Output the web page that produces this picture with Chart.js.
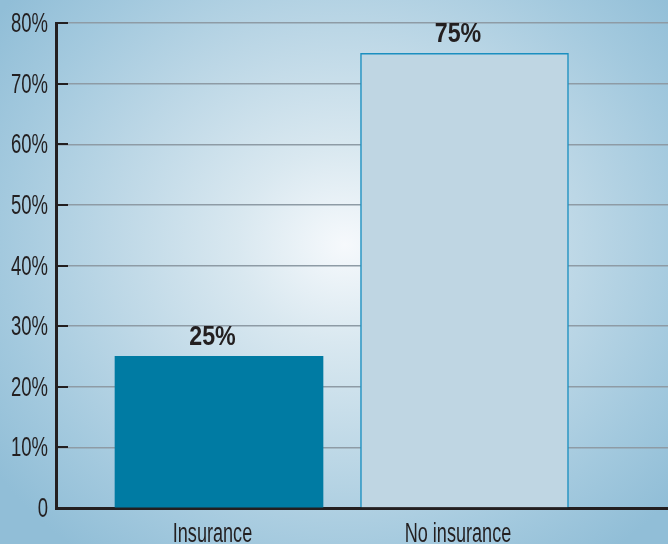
<!DOCTYPE html>
<html>
<head>
<meta charset="utf-8">
<script src="https://cdn.jsdelivr.net/npm/chart.js@4.4.0/dist/chart.umd.min.js"></script>
<style>
  html, body { margin: 0; padding: 0; }
  body {
    width: 668px; height: 544px; overflow: hidden;
    background: radial-gradient(ellipse 430px 390px at 345px 245px, #f6f9fc 0%, #d9e8f0 25%, #bcd7e6 55%, #a3c9de 80%, #91bed7 100%);
  }
  #wrap { position: relative; width: 668px; height: 544px; }
</style>
</head>
<body>
<div id="wrap"><canvas id="grafico"></canvas></div>
<script>
// --- DADOS ---
const categorias = ['Insurance', 'No insurance'];
const valores = [25, 75];
const rotulosValores = ['25%', '75%'];
const rotulosY = ['0', '10%', '20%', '30%', '40%', '50%', '60%', '70%', '80%'];

const fonte = "'Liberation Sans', Arial, sans-serif";
const corTexto = '#231f20';
const deslocTexto = -6.5; // os textos ficam um pouco à esquerda do centro das barras

// escreve texto "condensado" (escala horizontal), como a fonte do original
function textoEstreito(ctx, txt, x, y, escala, alinhamento, base) {
  ctx.save();
  ctx.translate(x, y);
  ctx.scale(escala, 1);
  ctx.textAlign = alinhamento;
  ctx.textBaseline = base;
  ctx.fillText(txt, 0, 0);
  ctx.restore();
}

// marcas curtas do eixo Y (para dentro) + rótulos dos eixos
const eixos = {
  id: 'eixos',
  afterDraw(chart) {
    const { ctx, chartArea } = chart;
    const y = chart.scales.y;
    const x = chart.scales.x;
    ctx.save();
    ctx.strokeStyle = corTexto;
    ctx.fillStyle = corTexto;
    ctx.lineWidth = 2;
    y.ticks.forEach((t, i) => {
      const py = Math.round(y.getPixelForValue(t.value));
      if (t.value !== 0) {
        ctx.beginPath();
        ctx.moveTo(chartArea.left, py);
        ctx.lineTo(chartArea.left + 12, py);
        ctx.stroke();
      }
      ctx.font = '28px ' + fonte;
      textoEstreito(ctx, rotulosY[i], chartArea.left - 8, py + 1, 0.66, 'right', 'middle');
    });
    ctx.font = '27px ' + fonte;
    categorias.forEach((c, i) => {
      const px = x.getPixelForValue(i) + deslocTexto;
      textoEstreito(ctx, c, px, chartArea.bottom + 34, 0.67, 'center', 'alphabetic');
    });
    ctx.restore();
  }
};

// rótulos de valor em cima das barras
const rotulosBarras = {
  id: 'rotulosBarras',
  afterDatasetsDraw(chart) {
    const ctx = chart.ctx;
    const meta = chart.getDatasetMeta(0);
    ctx.save();
    ctx.fillStyle = corTexto;
    ctx.font = 'bold 27px ' + fonte;
    meta.data.forEach((bar, i) => {
      textoEstreito(ctx, rotulosValores[i], bar.x + deslocTexto, bar.y - 11, 0.86, 'center', 'alphabetic');
    });
    ctx.restore();
  }
};

const canvas = document.getElementById('grafico');

new Chart(canvas, {
  type: 'bar',
  data: {
    datasets: [{
      data: categorias.map((c, i) => ({ x: i, y: valores[i] })),
      backgroundColor: ['#007ba3', '#bfd6e3'],
      borderColor: ['#007ba3', '#1b8fc0'],
      borderWidth: [0, 1.5],
      barThickness: 208
    }]
  },
  options: {
    responsive: true,
    maintainAspectRatio: false,
    animation: false,
    layout: { padding: { top: 23, right: 0, left: 0, bottom: 0 } },
    plugins: {
      legend: { display: false },
      tooltip: { enabled: false }
    },
    scales: {
      x: {
        type: 'linear',
        offset: false,
        min: -0.664,
        max: 1.829,
        afterBuildTicks: scale => { scale.ticks = categorias.map((c, i) => ({ value: i })); },
        afterFit: scale => { scale.height = 36; },
        grid: { display: false, drawTicks: false },
        border: { color: corTexto, width: 3 },
        ticks: { display: false }
      },
      y: {
        min: 0,
        max: 80,
        afterFit: scale => { scale.width = 56; },
        grid: { color: '#8e9ba5', lineWidth: 1.5, drawTicks: false },
        border: { color: corTexto, width: 3 },
        ticks: { display: false, stepSize: 10 }
      }
    }
  },
  plugins: [eixos, rotulosBarras]
});
</script>
</body>
</html>
